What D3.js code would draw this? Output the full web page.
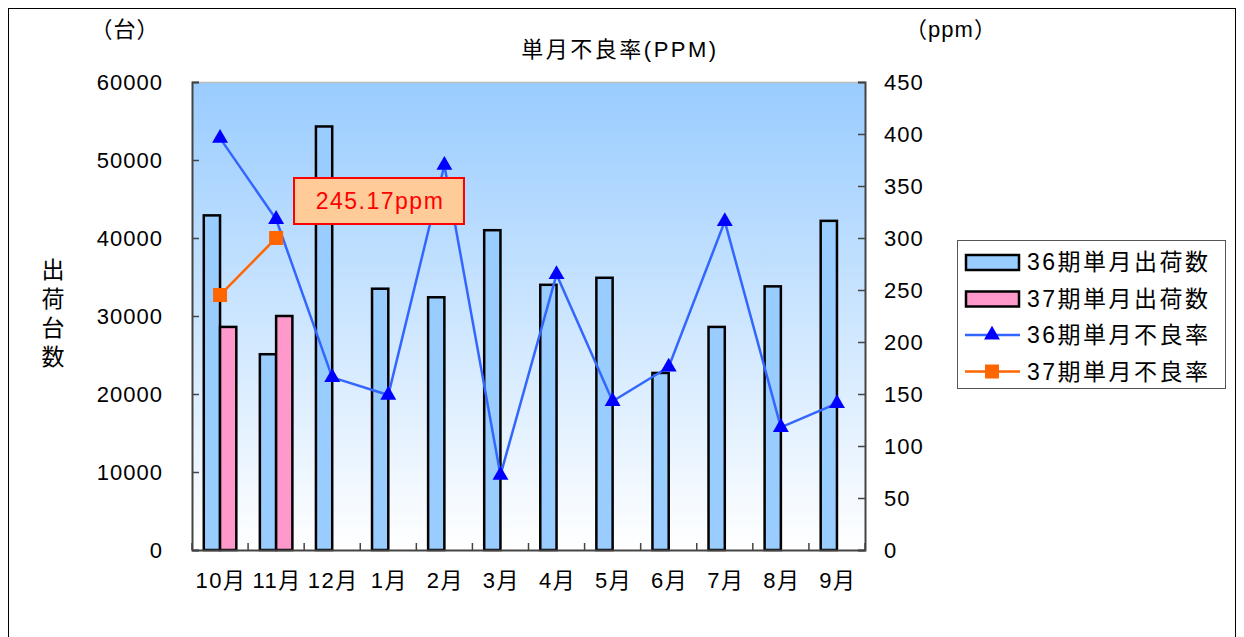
<!DOCTYPE html>
<html><head><meta charset="utf-8">
<script src="https://cdn.jsdelivr.net/npm/d3@7"></script>
<style>body{margin:0;background:#fff}svg{display:block}text{font-family:"Liberation Sans","Noto Sans CJK JP",sans-serif;}</style>
</head><body><svg id="c" width="1244" height="637"></svg>
<script>
const months = ["10月","11月","12月","1月","2月","3月","4月","5月","6月","7月","8月","9月"];
const ship36 = [42900,25100,54300,33500,32400,41000,34000,34900,22700,28600,33800,42200];
const ship37 = [28600,30000,null,null,null,null,null,null,null,null,null,null];
const ppm36 = [396,318,166,149,370,72,265,143,176,316,118,141];
const ppm37 = [245.17,300,null,null,null,null,null,null,null,null,null,null];
const leftTicks = [0,10000,20000,30000,40000,50000,60000];
const rightTicks = [0,50,100,150,200,250,300,350,400,450];
const legendLabels = ["36期単月出荷数","37期単月出荷数","36期単月不良率","37期単月不良率"];
const calloutText = "245.17ppm";

const svg = d3.select("#c");
const L=192,R=865,T=82,B=550;
const jp = '"Noto Sans CJK JP",sans-serif';
const lat = '"Liberation Sans",sans-serif';

// outer frame
svg.append("rect").attr("x",8.5).attr("y",8.5).attr("width",1227).attr("height",640).attr("fill","none").attr("stroke","#000").attr("stroke-width",1);

const defs = svg.append("defs");
const g = defs.append("linearGradient").attr("id","bg").attr("x1",0).attr("y1",0).attr("x2",0).attr("y2",1);
g.append("stop").attr("offset","0%").attr("stop-color","#99CCFF");
g.append("stop").attr("offset","100%").attr("stop-color","#FFFFFF");

const x = d3.scaleBand().domain(months).range([L,R]).padding(0);
const yL = d3.scaleLinear().domain([0,60000]).range([B,T]);
const yR = d3.scaleLinear().domain([0,450]).range([B,T]);

svg.append("rect").attr("x",L).attr("y",T).attr("width",R-L).attr("height",B-T).attr("fill","url(#bg)");
svg.append("line").attr("x1",L).attr("x2",R).attr("y1",T+0.5).attr("y2",T+0.5).attr("stroke","#bbb").attr("stroke-width",1.5);

const bw = x.bandwidth()*0.29;
// bars
svg.append("g").selectAll("rect").data(months).join("rect")
  .attr("x",d=>x(d)+x.bandwidth()/2-bw).attr("width",bw)
  .attr("y",(d,i)=>yL(ship36[i])).attr("height",(d,i)=>B-yL(ship36[i]))
  .attr("fill","#99CCFF").attr("stroke","#000").attr("stroke-width",2.5);
svg.append("g").selectAll("rect").data(months.filter((d,i)=>ship37[i]!=null)).join("rect")
  .attr("x",d=>x(d)+x.bandwidth()/2).attr("width",bw)
  .attr("y",(d,i)=>yL(ship37[i])).attr("height",(d,i)=>B-yL(ship37[i]))
  .attr("fill","#FF99CC").attr("stroke","#000").attr("stroke-width",2.5);

// axes
const axL = d3.axisLeft(yL).tickValues(leftTicks).tickSize(-7).tickPadding(29).tickFormat(d3.format("d"));
const gl = svg.append("g").attr("transform",`translate(${L},0)`).call(axL);
const axR = d3.axisRight(yR).tickValues(rightTicks).tickSize(-7).tickPadding(19);
const gr = svg.append("g").attr("transform",`translate(${R},0)`).call(axR);
const axB = d3.axisBottom(x).tickSize(0).tickPadding(22);
const gb = svg.append("g").attr("transform",`translate(0,${B})`).call(axB);
[gl,gr,gb].forEach(a=>{a.select(".domain").attr("stroke","#444").attr("stroke-width",2);
  a.selectAll(".tick line").attr("stroke","#444").attr("stroke-width",1.5);
  a.selectAll("text").attr("font-size",22).attr("fill","#000").attr("font-family",lat).attr("letter-spacing",1);});
gb.selectAll("text").attr("font-family",jp).attr("font-size",22).attr("letter-spacing",1.5).attr("dx",1);
gl.selectAll("text").attr("dy","0.36em");
gr.selectAll("text").attr("dy","0.36em");
// category boundary ticks
svg.append("g").selectAll("line").data(months.concat(["end"])).join("line")
  .attr("x1",(d,i)=>L+i*x.bandwidth()).attr("x2",(d,i)=>L+i*x.bandwidth())
  .attr("y1",B).attr("y2",B-7).attr("stroke","#444").attr("stroke-width",1.5);

// lines
const cx = d=>x(d)+x.bandwidth()/2;
const line36 = d3.line().x((d,i)=>cx(months[i])).y(d=>yR(d));
svg.append("path").attr("d",line36(ppm36)).attr("fill","none").attr("stroke","#3366FF").attr("stroke-width",2.5);
const p37 = ppm37.map((v,i)=>[months[i],v]).filter(d=>d[1]!=null);
const line37 = d3.line().x(d=>cx(d[0])).y(d=>yR(d[1]));
svg.append("path").attr("d",line37(p37)).attr("fill","none").attr("stroke","#FF6600").attr("stroke-width",2.5);

const tri = d3.symbol().type(d3.symbolTriangle).size(110);
svg.append("g").selectAll("path").data(ppm36).join("path")
  .attr("d",tri).attr("transform",(d,i)=>`translate(${cx(months[i])},${yR(d)})`).attr("fill","#0000FF");
svg.append("g").selectAll("rect").data(p37).join("rect")
  .attr("x",d=>cx(d[0])-7).attr("y",d=>yR(d[1])-7).attr("width",14).attr("height",14).attr("fill","#FF6600");

// callout
svg.append("rect").attr("x",294).attr("y",178).attr("width",170).attr("height",46).attr("fill","#FFCC99").attr("stroke","#FF0000").attr("stroke-width",2);
svg.append("text").attr("x",380).attr("y",201).attr("dy","0.36em").attr("text-anchor","middle").attr("font-size",23).attr("letter-spacing",1.5).attr("fill","#FF0000").attr("font-family",lat).text(calloutText);

// titles
svg.append("text").attr("x",620).attr("y",49).attr("dy","0.36em").attr("text-anchor","middle").attr("font-size",22).attr("letter-spacing",2.5).attr("font-family",jp).text("単月不良率(PPM)");
svg.append("text").attr("x",125).attr("y",29).attr("dy","0.36em").attr("text-anchor","middle").attr("font-size",22).attr("letter-spacing",1).attr("font-family",jp).text("（台）");
svg.append("text").attr("x",951).attr("y",29).attr("dy","0.36em").attr("text-anchor","middle").attr("font-size",22).attr("letter-spacing",1).attr("font-family",jp).text("（ppm）");
const vt = svg.append("text").attr("font-size",23).attr("font-family",jp).attr("text-anchor","middle");
"出荷台数".split("").forEach((c,i)=>vt.append("tspan").attr("x",53).attr("y",270+i*29).attr("dy","0.36em").text(c));

// legend
const lg = svg.append("g");
lg.append("rect").attr("x",957.5).attr("y",240.5).attr("width",268).attr("height",148).attr("fill","#fff").attr("stroke","#555").attr("stroke-width",1);
legendLabels.forEach((t,i)=>{
  const yy = 262+i*36.5;
  if(i<2){
    lg.append("rect").attr("x",966).attr("y",yy-7).attr("width",53).attr("height",15).attr("fill",i==0?"#99CCFF":"#FF99CC").attr("stroke","#000").attr("stroke-width",2.5);
  } else {
    lg.append("line").attr("x1",965).attr("x2",1020).attr("y1",yy).attr("y2",yy).attr("stroke",i==2?"#3366FF":"#FF6600").attr("stroke-width",2.5);
    if(i==2) lg.append("path").attr("d",tri).attr("transform",`translate(992,${yy})`).attr("fill","#0000FF");
    else lg.append("rect").attr("x",985).attr("y",yy-7).attr("width",14).attr("height",14).attr("fill","#FF6600");
  }
  lg.append("text").attr("x",1027).attr("y",yy).attr("dy","0.36em").attr("font-size",23).attr("letter-spacing",2.5).attr("font-family",jp).text(t);
});
</script></body></html>
